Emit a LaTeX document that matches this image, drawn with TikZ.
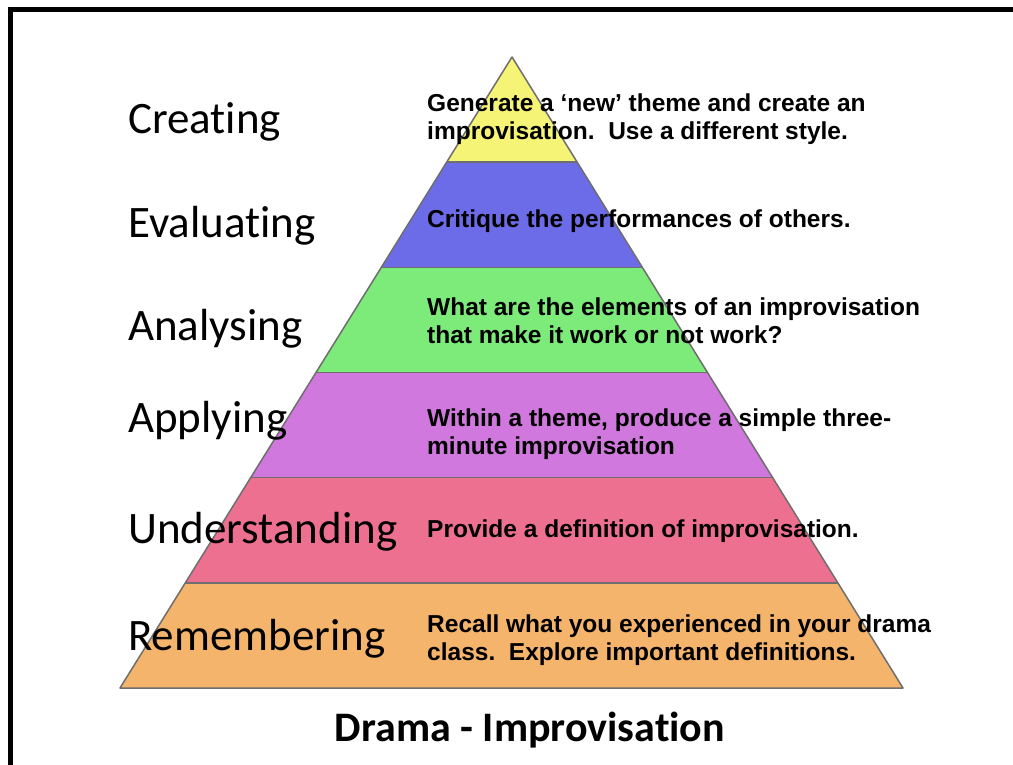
\documentclass[tikz,border=0pt]{standalone}
\usepackage{fontspec}
\setmainfont{Liberation Sans}
\newfontfamily\levelfont[Ligatures=NoCommon]{Carlito}

\definecolor{creatingcol}{HTML}{F6F477}
\definecolor{evaluatingcol}{HTML}{6C6CE8}
\definecolor{analysingcol}{HTML}{7DEB7A}
\definecolor{applyingcol}{HTML}{D178DE}
\definecolor{understandingcol}{HTML}{EE7091}
\definecolor{rememberingcol}{HTML}{F5B46C}
\definecolor{edgegrey}{HTML}{6E6E6E}

\begin{document}
\begin{tikzpicture}[x=1pt, y=-1pt,
    level/.style={font=\levelfont\fontsize{45}{50}\selectfont, anchor=base west, inner sep=0pt},
    task/.style={font=\bfseries\fontsize{24.5}{28}\selectfont, anchor=base west, align=left, inner sep=0pt}]
    \useasboundingbox (0,0) rectangle (1013,765);
    % Rahmen
    \draw[line width=5pt] (10.5,765) -- (10.5,9.5) -- (1013,9.5);
    % Pyramide in Stufen
    \begin{scope}
        \clip (512,57) -- (903,688) -- (120,688) -- cycle;
        \foreach \col [count=\i] in {creatingcol, evaluatingcol, analysingcol, applyingcol, understandingcol, rememberingcol}
            \fill[\col] (0,{57+(\i-1)*105.17}) rectangle (1013,{57+\i*105.17});
        \foreach \i in {1,...,5}
            \draw[edgegrey, line width=1.5pt] (0,{57+\i*105.17}) -- (1013,{57+\i*105.17});
    \end{scope}
    \draw[edgegrey, line width=1.5pt, line join=round] (512,57) -- (903,688) -- (120,688) -- cycle;
    % Stufen links
    \node[level] (creating) at (128,134) {Creating};
    \node[level] (evaluating) at (128,237) {Evaluating};
    \node[level] (analysing) at (128,340) {Analysing};
    \node[level] (applying) at (128,432) {Applying};
    \node[level] (understanding) at (128,543) {Understanding};
    \node[level] (remembering) at (128,650) {Remembering};
    % Aufgaben rechts (Anker = letzte Zeile)
    \node[task] (creatingtask) at (427,140) {Generate a `new' theme and create an\\improvisation.\ \ Use a different style.};
    \node[task] (evaluatingtask) at (427,228) {Critique the performances of others.};
    \node[task] (analysingtask) at (427,343) {What are the elements of an improvisation\\that make it work or not work?};
    \node[task] (applyingtask) at (427,454) {Within a theme, produce a simple three-\\minute improvisation};
    \node[task] (understandingtask) at (427,537) {Provide a definition of improvisation.};
    \node[task] (rememberingtask) at (427,660) {Recall what you experienced in your drama\\class.\ \ Explore important definitions.};
    % Titel
    \node[font=\levelfont\bfseries\fontsize{42}{46}\selectfont, anchor=base, inner sep=0pt] (title) at (530,741) {Drama - Improvisation};
\end{tikzpicture}
\end{document}
